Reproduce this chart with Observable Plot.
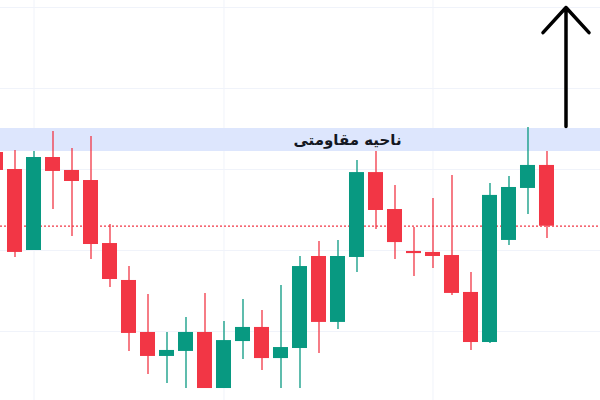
<!DOCTYPE html>
<html>
<head>
<meta charset="utf-8">
<script src="https://cdn.jsdelivr.net/npm/d3@7"></script>
<script src="https://cdn.jsdelivr.net/npm/@observablehq/plot@0.6"></script>
<style>
  html, body { margin: 0; padding: 0; background: #ffffff; }
  #chart svg { display: block; }
</style>
</head>
<body>
<div id="chart"></div>
<script>
// Candle data (index 0..29)
const opens  = [1160.5,1150.0,1100.0,1157.4,1149.4,1143.2,1104.3,1081.5,1049.4,1034.6,1037.7,1049.4,1014.8,1043.8,1052.5,1033.3,1039.5,1096.3,1055.6,1095.7,1148.1,1125.3,1099.4,1098.8,1096.9,1074.1,1043.2,1106.2,1138.3,1152.5];
const highs  = [1163.0,1161.7,1161.1,1173.5,1163.0,1170.4,1116.0,1090.1,1072.8,1049.4,1058.6,1073.5,1056.2,1069.8,1063.0,1078.4,1096.3,1105.6,1106.2,1155.6,1161.1,1140.1,1114.2,1132.1,1146.3,1086.4,1141.4,1145.7,1175.9,1161.1];
const lows   = [1144.4,1095.7,1100.0,1125.3,1108.6,1094.4,1077.2,1037.7,1023.5,1017.9,1014.8,1014.8,1014.8,1032.7,1025.9,1014.8,1014.8,1036.4,1051.2,1086.4,1113.0,1094.4,1084.0,1088.9,1072.2,1038.3,1042.6,1103.1,1122.2,1107.4];
const closes = [1149.4,1098.8,1157.4,1148.8,1142.6,1103.7,1082.1,1048.8,1034.6,1038.3,1049.4,1014.8,1044.4,1052.5,1033.3,1040.1,1090.1,1055.6,1096.3,1148.1,1124.7,1104.9,1098.1,1096.3,1073.5,1043.2,1134.0,1138.9,1152.5,1115.0];

// Price grid ticks and time grid positions
const priceTicks = [1000, 1050, 1100, 1150, 1200, 1250];
const timeTicks = [2, 12, 23];

// Resistance zone
const zoneLow = 1161.1;
const zoneHigh = 1175.3;
const zoneLabel = "ناحیه مقاومتی";
const zoneLabelIndex = 18.5;

// Arrow (up)
const arrowIndex = 30;
const arrowFrom = 1176.5;
const arrowTo = 1250.0;

const candles = opens.map((o, i) => ({
  i, open: o, high: highs[i], low: lows[i], close: closes[i],
  up: closes[i] >= o
}));
const lastClose = closes[closes.length - 1];

const green = "#089981";
const red = "#f23645";
const halfW = 0.395;

const chart = Plot.plot({
  width: 600,
  height: 400,
  margin: 0,
  x: { domain: [0.2368, 31.816], axis: null },
  y: { domain: [1007.41, 1254.32], axis: null },
  style: { background: "#ffffff" },
  marks: [
    Plot.gridY(priceTicks, { stroke: "#f0f3fa", strokeOpacity: 1 }),
    Plot.gridX(timeTicks, { stroke: "#f0f3fa", strokeOpacity: 1 }),
    Plot.rect([{ y1: zoneLow, y2: zoneHigh }], { y1: "y1", y2: "y2", fill: "#dde6fd" }),
    Plot.ruleY([lastClose], { stroke: red, strokeWidth: 1.3, strokeDasharray: "2,2" }),
    Plot.ruleX(candles, {
      x: "i", y1: "low", y2: "high",
      stroke: d => d.up ? green : red, strokeWidth: 1.3
    }),
    Plot.rect(candles, {
      x1: d => d.i - halfW, x2: d => d.i + halfW,
      y1: "open", y2: "close",
      fill: d => d.up ? green : red
    }),
    Plot.text([zoneLabel], {
      x: zoneLabelIndex, y: (zoneLow + zoneHigh) / 2,
      text: d => d, fontFamily: "DejaVu Sans", fontWeight: "bold",
      fontSize: 15, fill: "#131722"
    }),
    Plot.arrow([{ x: arrowIndex, y1: arrowFrom, y2: arrowTo }], {
      x1: "x", x2: "x", y1: "y1", y2: "y2",
      stroke: "#000000", strokeWidth: 3.5,
      headLength: 14.6, headAngle: 85,
      strokeLinecap: "round", strokeLinejoin: "round"
    })
  ]
});
document.getElementById("chart").appendChild(chart);
</script>
</body>
</html>
